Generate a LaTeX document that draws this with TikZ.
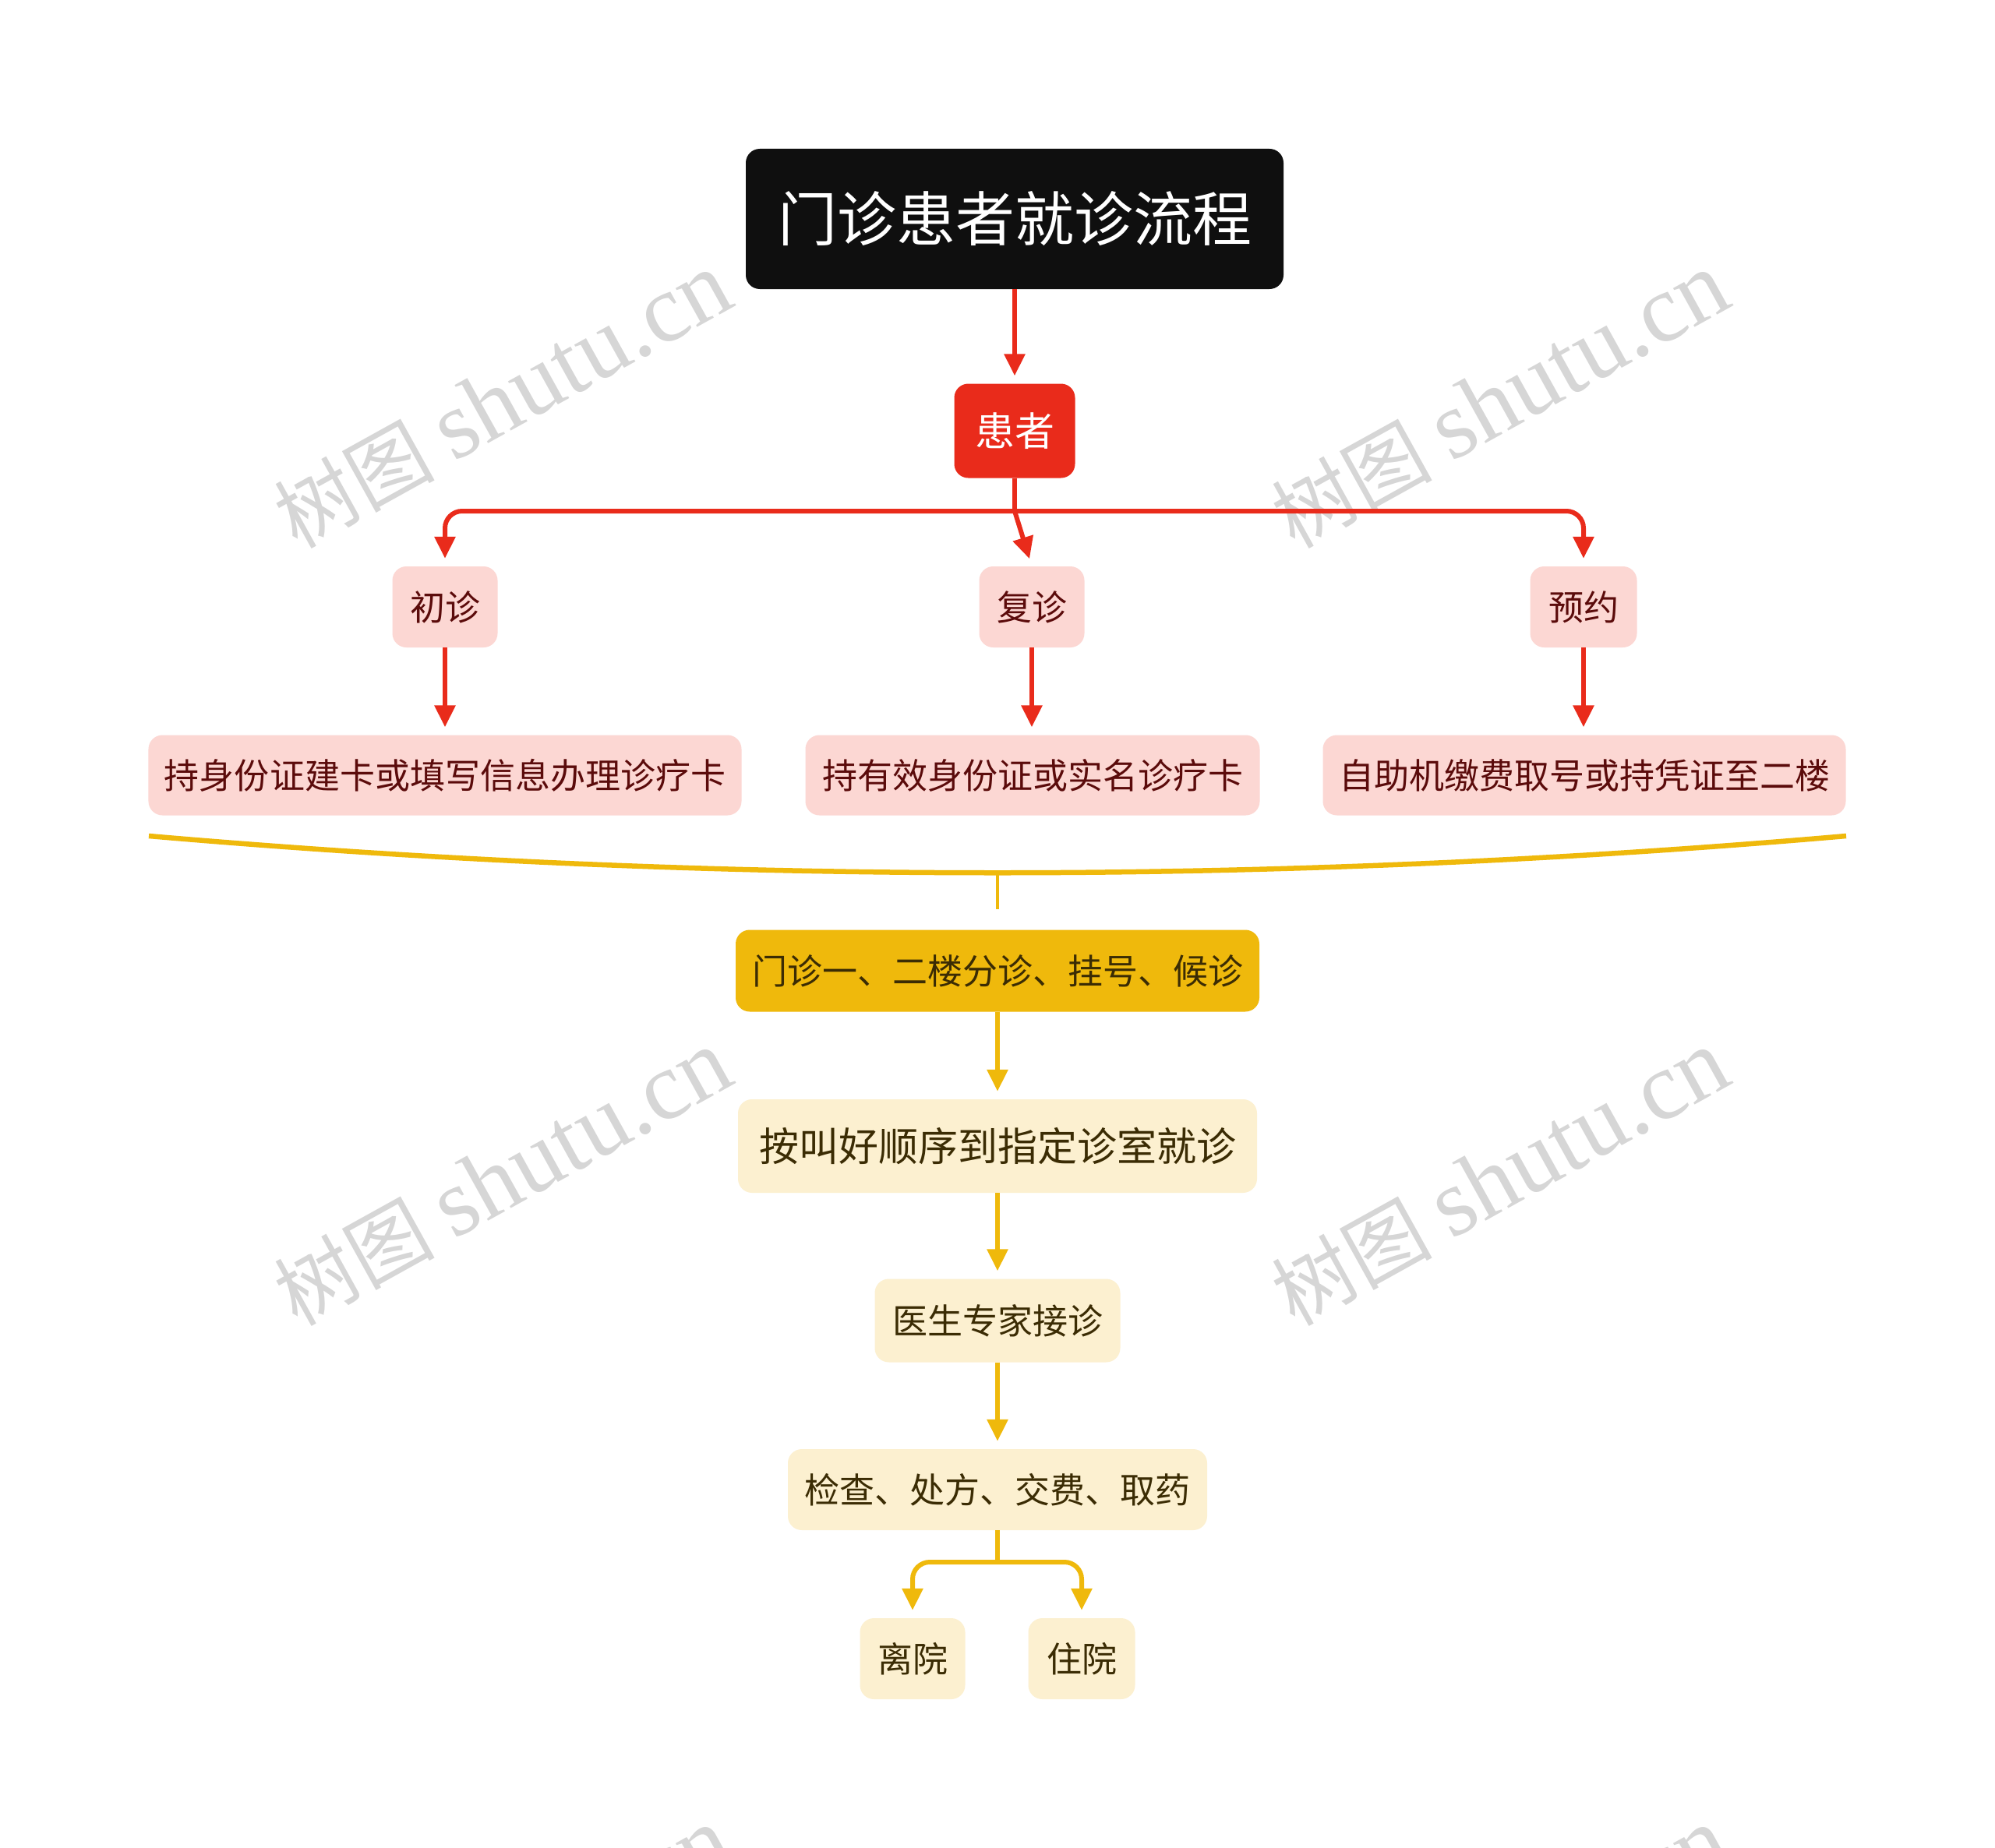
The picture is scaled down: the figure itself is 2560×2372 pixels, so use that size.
\documentclass[tikz,border=0pt]{standalone}
\usepackage{fontspec}
\newfontfamily\cjk{Noto Sans CJK SC}
\newfontfamily\wmserif{Liberation Serif}
\usetikzlibrary{arrows.meta}
\definecolor{redc}{HTML}{E92B1B}
\definecolor{pinkc}{HTML}{FCD7D3}
\definecolor{maroon}{HTML}{5B0B0B}
\definecolor{goldc}{HTML}{EFB90C}
\definecolor{creamc}{HTML}{FCF0D0}
\definecolor{browntext}{HTML}{3B2C04}
\definecolor{rootc}{HTML}{0F0F0F}
\definecolor{wmc}{HTML}{D6D6D6}
\tikzset{
  basebox/.style={rounded corners=18bp, inner sep=0pt, align=center},
  rootbox/.style={basebox, fill=rootc, text=white, minimum width=690bp, minimum height=180bp,
    font={\cjk\fontsize{76bp}{90bp}\selectfont}},
  patbox/.style={basebox, fill=redc, text=white, minimum width=155bp, minimum height=121bp,
    font={\cjk\fontsize{51bp}{60bp}\selectfont}},
  pinkbox/.style={basebox, fill=pinkc, text=maroon, minimum height=104bp,
    font={\cjk\fontsize{45bp}{54bp}\selectfont}},
  goldbox/.style={basebox, fill=goldc, text=browntext, minimum height=105bp,
    font={\cjk\fontsize{45bp}{54bp}\selectfont}},
  creambox/.style={basebox, fill=creamc, text=browntext, minimum height=104bp,
    font={\cjk\fontsize{45bp}{54bp}\selectfont}},
  redln/.style={draw=redc, line width=6bp},
  goldln/.style={draw=goldc, line width=6bp},
  redarr/.style={redln, -{Triangle[width=26bp,length=28bp]}, shorten >=10bp},
  goldarr/.style={goldln, -{Triangle[width=26bp,length=28bp]}, shorten >=10bp},
  wmark/.style={text=wmc, rotate=29, inner sep=0pt},
}
\newcommand{\wmtext}{{\cjk\fontsize{103bp}{110bp}\selectfont 树图}\hspace{24bp}{\wmserif\fontsize{124bp}{130bp}\selectfont shutu.cn}}
\begin{document}
\begin{tikzpicture}[x=1bp,y=-1bp]
\useasboundingbox (0,0) rectangle (2560,2372);
\fill[white] (0,0) rectangle (2560,2372);
% watermarks
\begin{scope}
\clip (0,0) rectangle (2560,2372);
\node[wmark] (w1) at (645,514) {\wmtext};
\node[wmark] (w2) at (1925,514) {\wmtext};
\node[wmark] (w3) at (645,1512) {\wmtext};
\node[wmark] (w4) at (1925,1512) {\wmtext};
\node[wmark] (w5) at (645,2510) {\wmtext};
\node[wmark] (w6) at (1925,2510) {\wmtext};
\end{scope}
% nodes
\node[rootbox] (root) at (1302,281) {门诊患者就诊流程};
\node[patbox] (pat) at (1302,553) {患者};
\node[pinkbox, minimum width=135bp] (c1) at (571,779) {初诊};
\node[pinkbox, minimum width=135bp] (c2) at (1324,779) {复诊};
\node[pinkbox, minimum width=137bp] (c3) at (2032,779) {预约};
\node[pinkbox, minimum width=761bp, minimum height=103bp] (d1) at (571,995) {持身份证建卡或填写信息办理诊疗卡};
\node[pinkbox, minimum width=583bp, minimum height=103bp] (d2) at (1325,995) {持有效身份证或实名诊疗卡};
\node[pinkbox, minimum width=671bp, minimum height=103bp] (d3) at (2033,995) {自助机缴费取号或持凭证至二楼};
\node[goldbox, minimum width=672bp] (e) at (1280,1246) {门诊一、二楼分诊、挂号、候诊};
\node[creambox, minimum width=666bp, minimum height=120bp, font={\cjk\fontsize{51bp}{60bp}\selectfont}] (f) at (1280,1471) {按叫好顺序到指定诊室就诊};
\node[creambox, minimum width=315bp, minimum height=107bp] (g) at (1280,1695) {医生专家接诊};
\node[creambox, minimum width=538bp] (h) at (1280,1912) {检查、处方、交费、取药};
\node[creambox, minimum width=135bp] (i) at (1171,2129) {离院};
\node[creambox, minimum width=137bp] (j) at (1388,2129) {住院};
% connectors
\draw[redarr] (root) -- (pat);
\coordinate (pj) at (1302,656);
\draw[redln] (pat.south) -- (pj);
\draw[redarr, rounded corners=22bp] (pj) -| (c1.north);
\draw[redarr] (pj) -- (c2.north);
\draw[redarr, rounded corners=22bp] (pj) -| (c3.north);
\draw[redarr] (c1) -- (d1);
\draw[redarr] (c2.south) -- (c2.south |- d2.north);
\draw[redarr] (c3.south) -- (c3.south |- d3.north);
\coordinate (bl) at (191,1073);
\coordinate (br) at (2369,1073);
\coordinate (bm) at (1280,1120);
\draw[goldln, line width=6.5bp] (bl) .. controls (917,1136) and (1643,1136) .. (br);
\draw[goldln, line width=3.5bp, shorten >=26bp] (bm) -- (e.north);
\draw[goldarr] (e) -- (f);
\draw[goldarr] (f) -- (g);
\draw[goldarr] (g) -- (h);
\coordinate (hj) at (1280,2005);
\draw[goldln] (h.south) -- (hj);
\draw[goldarr, rounded corners=22bp] (hj) -| (i.north);
\draw[goldarr, rounded corners=22bp] (hj) -| (j.north);
\end{tikzpicture}
\end{document}
